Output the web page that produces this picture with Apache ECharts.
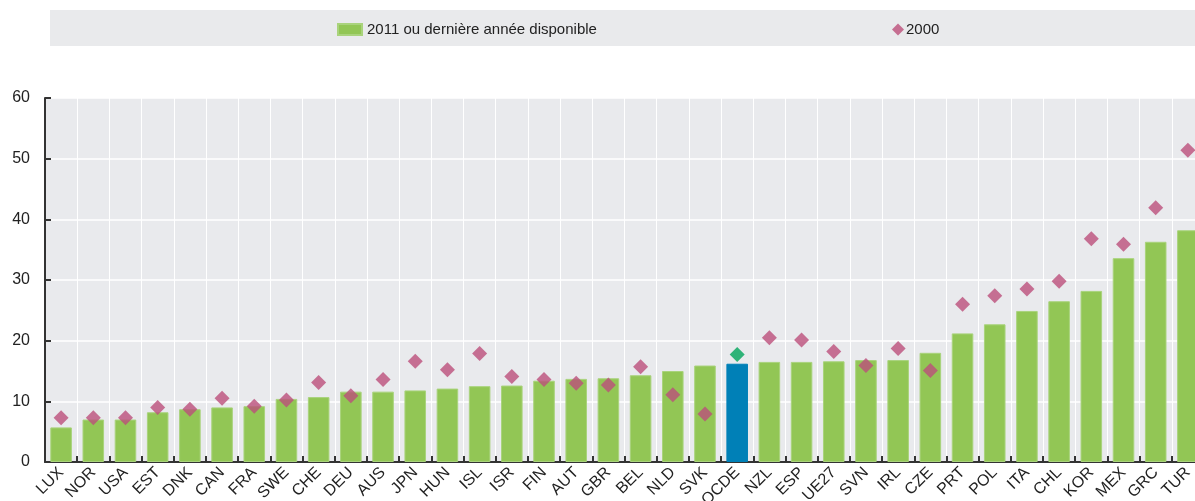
<!DOCTYPE html>
<html>
<head>
<meta charset="utf-8">
<script src="https://cdn.jsdelivr.net/npm/echarts@6/dist/echarts.min.js"></script>
<style>
html,body{margin:0;padding:0;background:#fff;}
#c{width:1195px;height:501px;}
</style>
</head>
<body>
<div id="c"></div>
<script>
const categories = ['LUX','NOR','USA','EST','DNK','CAN','FRA','SWE','CHE','DEU','AUS','JPN','HUN','ISL','ISR','FIN','AUT','GBR','BEL','NLD','SVK','OCDE','NZL','ESP','UE27','SVN','IRL','CZE','PRT','POL','ITA','CHL','KOR','MEX','GRC','TUR'];
const values2011 = [5.7,7.0,7.0,8.2,8.7,9.0,9.2,10.4,10.7,11.6,11.6,11.8,12.1,12.5,12.6,13.4,13.7,13.8,14.3,15.0,15.9,16.2,16.5,16.5,16.6,16.8,16.8,18.0,21.2,22.7,24.9,26.5,28.2,33.6,36.3,38.2];
const values2000 = [7.3,7.3,7.3,9.0,8.7,10.5,9.2,10.2,13.1,10.9,13.6,16.6,15.2,17.9,14.1,13.6,13.0,12.7,15.7,11.1,7.9,17.7,20.5,20.1,18.2,15.9,18.7,15.1,26.0,27.4,28.5,29.8,36.8,35.9,41.9,51.4];
const yTicks = [0,10,20,30,40,50,60];
const seriesNames = ['2011 ou dernière année disponible','2000'];
const highlight = 'OCDE';

const FONT = 'Liberation Sans, Arial, sans-serif';
const barData = values2011.map((v,i)=> categories[i]===highlight
  ? {value:v, itemStyle:{color:'#0080b7', borderColor:'#0080b7'}} : v);
const dotData = values2000.map((v,i)=> categories[i]===highlight
  ? {value:v, itemStyle:{color:'#00a55a'}} : v);

const chart = echarts.init(document.getElementById('c'), null, {renderer:'canvas'});
chart.setOption({
  animation:false,
  backgroundColor:'#ffffff',
  textStyle:{fontFamily:FONT},
  graphic:[{type:'rect', shape:{x:50,y:10,width:1145,height:36}, style:{fill:'#e9eaec'}, z:-1}],
  legend:[
    {data:[seriesNames[0]], left:337, top:22, padding:0, icon:'rect', itemWidth:24, itemHeight:11,
     textStyle:{fontSize:15, color:'#222', fontFamily:FONT}},
    {data:[seriesNames[1]], left:892, top:22, padding:0, icon:'diamond', itemWidth:12, itemHeight:12,
     textStyle:{fontSize:15, color:'#222', fontFamily:FONT, padding:[0,0,0,-3]}}
  ],
  grid:{left:45, top:98, width:1159, height:364, show:true, backgroundColor:'#e9eaed', borderWidth:0,
        outerBoundsMode:'none', containLabel:false},
  xAxis:{
    type:'category', data:categories,
    axisLine:{lineStyle:{color:'#333', width:2}},
    axisTick:{show:true, inside:true, length:6, lineStyle:{color:'#333', width:2}},
    axisLabel:{rotate:45, fontSize:16, color:'#222', margin:8, interval:0, fontFamily:FONT},
    splitLine:{show:true, lineStyle:{color:'#ffffff', width:1}}
  },
  yAxis:{
    type:'value', min:0, max:60, interval:10,
    axisLine:{show:true, lineStyle:{color:'#333', width:2}},
    axisTick:{show:true, inside:true, length:6, lineStyle:{color:'#333', width:2}},
    axisLabel:{fontSize:16, color:'#222', margin:15, fontFamily:FONT,
      formatter:v=> yTicks.includes(v) ? String(v) : ''},
    splitLine:{show:true, lineStyle:{color:'#ffffff', width:1.5}}
  },
  series:[
    {name:seriesNames[0], type:'bar', data:barData, barWidth:'67%',
     itemStyle:{color:'#92c655', borderColor:'#a9d37c', borderWidth:1}},
    {name:seriesNames[1], type:'scatter', data:dotData, symbol:'diamond', symbolSize:15,
     itemStyle:{color:'#bb4f7b'}, z:5}
  ]
});
</script>
</body>
</html>
